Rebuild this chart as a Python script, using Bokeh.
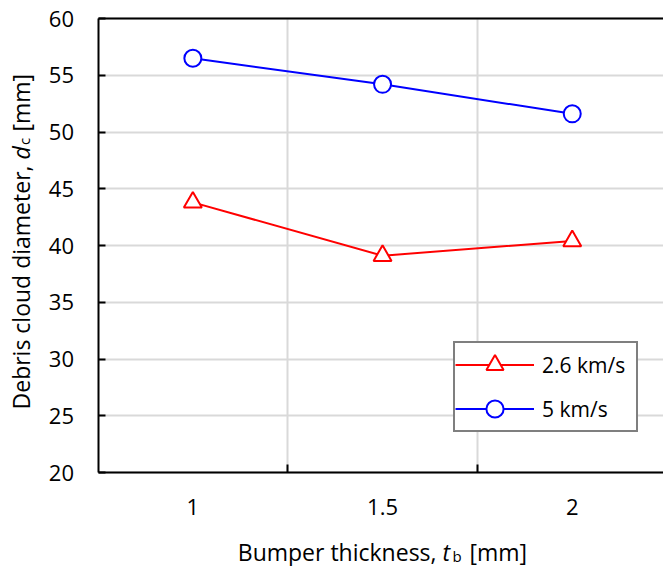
import math
from bokeh.plotting import figure
from bokeh.models import (FixedTicker, LinearAxis, Label, Legend, LegendItem, Range1d, Grid)
from bokeh.embed import file_html
from bokeh.resources import INLINE

# ---- data ----
thickness = [1, 1.5, 2]
tick_labels = ["1", "1.5", "2"]
dc_2_6 = [43.8, 39.1, 40.4]
dc_5 = [56.5, 54.2, 51.6]
series_names = ["2.6 km/s", "5 km/s"]
y_ticks = [20, 25, 30, 35, 40, 45, 50, 55, 60]
category_bounds = [1.25, 1.75, 2.25]
x_lo, x_hi = 0.75, 2.25
y_lo, y_hi = 20, 60

FONT = "Open Sans"
W, H = 663, 566
# plot-area placement in canvas pixels
px_left, px_top, px_bottom = 97.5, 18.0, 472.0
px_per_x = 379.4
px_per_y = (px_bottom - px_top) / (y_hi - y_lo)

# the frame covers the whole canvas; axes are pinned at the data edges
xr = Range1d(x_lo - px_left / px_per_x, x_lo + (W - px_left) / px_per_x)
yr = Range1d(y_lo - (H - px_bottom) / px_per_y, y_hi + px_top / px_per_y)

p = figure(width=W, height=H, output_backend="svg", toolbar_location=None,
           x_range=xr, y_range=yr, x_axis_location=None, y_axis_location=None,
           min_border=0, min_border_left=0, min_border_right=0,
           min_border_top=0, min_border_bottom=0)
p.outline_line_color = None
p.background_fill_color = "white"
p.border_fill_color = "white"
p.center = []  # drop default grids

# ---- grids ----
def make_grid(dim, ticks, cross):
    try:
        return Grid(dimension=dim, ticker=FixedTicker(ticks=ticks), cross_bounds=cross,
                    grid_line_color="#d9d9d9", grid_line_width=2)
    except AttributeError:
        return None

vg = make_grid(0, category_bounds, (y_lo, y_hi))
hg = make_grid(1, y_ticks, (x_lo, x_hi))
if vg is not None and hg is not None:
    p.add_layout(vg, "center")
    p.add_layout(hg, "center")
else:
    p.segment(x0=category_bounds, y0=[y_lo] * len(category_bounds),
              x1=category_bounds, y1=[y_hi] * len(category_bounds),
              line_color="#d9d9d9", line_width=2)
    p.segment(x0=[x_lo] * len(y_ticks), y0=y_ticks, x1=[x_hi] * len(y_ticks), y1=y_ticks,
              line_color="#d9d9d9", line_width=2)

# ---- axes ----
xa = LinearAxis(fixed_location=y_lo, bounds=(x_lo, x_hi),
                ticker=FixedTicker(ticks=thickness, minor_ticks=category_bounds[:-1]))
xa.major_label_overrides = {t: lab for t, lab in zip(thickness, tick_labels)}
xa.major_tick_in = 0
xa.major_tick_out = 0
xa.major_tick_line_color = None
xa.minor_tick_in = 8
xa.minor_tick_out = 0
xa.minor_tick_line_width = 2
xa.minor_tick_line_color = "black"
xa.major_label_standoff = 26

ya = LinearAxis(fixed_location=x_lo, bounds=(y_lo, y_hi), ticker=FixedTicker(ticks=y_ticks))
ya.major_tick_in = 7
ya.major_tick_out = 0
ya.major_tick_line_width = 2
ya.major_tick_line_color = "black"
ya.minor_tick_line_color = None
ya.major_label_standoff = 24

for ax in (xa, ya):
    ax.axis_line_width = 2
    ax.axis_line_color = "black"
    ax.major_label_text_font = FONT
    ax.major_label_text_font_size = "22px"
    ax.major_label_text_color = "black"

top = LinearAxis(fixed_location=y_hi, bounds=(x_lo, x_hi), ticker=FixedTicker(ticks=[]),
                 major_label_text_font_size="0px", major_tick_in=0, major_tick_out=0,
                 minor_tick_in=0, minor_tick_out=0, major_label_standoff=0,
                 axis_line_width=2, axis_line_color="black")
p.add_layout(xa, "below")
p.add_layout(ya, "left")
p.add_layout(top, "above")

# ---- series ----
r1 = p.line(thickness, dc_2_6, line_color="#ff0000", line_width=2)
m1 = p.scatter(thickness, dc_2_6, marker="triangle", size=18, line_color="#ff0000",
               line_width=2, fill_color="white")
r2 = p.line(thickness, dc_5, line_color="#0000ff", line_width=2)
m2 = p.scatter(thickness, dc_5, marker="circle", size=17, line_color="#0000ff",
               line_width=2, fill_color="white")

legend = Legend(items=[LegendItem(label=series_names[0], renderers=[r1, m1]),
                       LegendItem(label=series_names[1], renderers=[r2, m2])],
                location=(453, H - 432), orientation="vertical",
                border_line_color="black", border_line_width=2,
                background_fill_color="white", background_fill_alpha=1,
                label_text_font=FONT, label_text_font_size="21px", label_text_color="black",
                glyph_width=79, glyph_height=43, label_height=24, label_standoff=8, spacing=1,
                padding=0, margin=0, label_width=94)
p.add_layout(legend, "center")

# ---- axis titles (with italic symbol and subscript) ----
def lab(text, x, y, size="23px", style="normal", align="left", angle=0.0):
    # x, y in canvas pixels from the top-left corner
    p.add_layout(Label(x=x, y=H - y, x_units="screen", y_units="screen", text=text,
                       text_align=align, text_baseline="alphabetic", text_font=FONT,
                       text_font_size=size, text_font_style=style, text_color="black",
                       angle=angle))

tx, tb = 442, 551
lab("Bumper thickness,", tx - 6, tb, align="right")
lab("t", tx, tb, style="italic")
lab("b", tx + 10, tb + 4, size="15px")
lab("[mm]", tx + 27, tb)

rot = math.pi / 2
yx, yy = 20.5, 159
lab("Debris cloud diameter,", yx, yy + 6, align="right", angle=rot)
lab("d", yx, yy, style="italic", angle=rot)
lab("c", yx + 3, yy - 14.5, size="15px", angle=rot)
lab("[mm]", yx, yy - 28, angle=rot)

open("out.html", "w").write(file_html(p, INLINE))
